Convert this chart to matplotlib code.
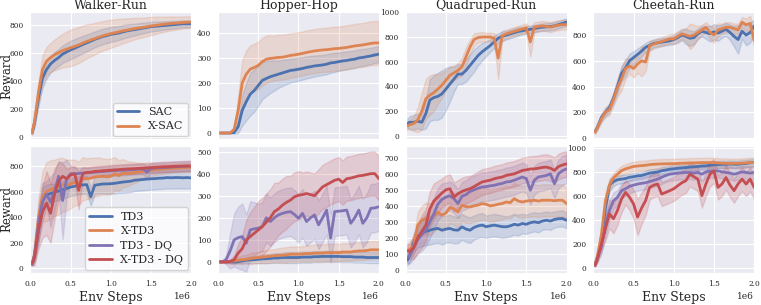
import numpy as np
import matplotlib
matplotlib.use('Agg')
import matplotlib.pyplot as plt
import seaborn as sns

# env steps (in millions)
steps = [0.02, 0.05, 0.10, 0.15, 0.20, 0.25, 0.30, 0.35, 0.40, 0.45, 0.50,
         0.55, 0.60, 0.65, 0.70, 0.75, 0.80, 0.85, 0.90, 0.95, 1.00,
         1.05, 1.10, 1.15, 1.20, 1.25, 1.30, 1.35, 1.40, 1.45, 1.50,
         1.55, 1.60, 1.65, 1.70, 1.75, 1.80, 1.85, 1.90, 1.95, 2.00]

envs = ['Walker-Run', 'Hopper-Hop', 'Quadruped-Run', 'Cheetah-Run']
top_algos = ['SAC', 'X-SAC']
bottom_algos = ['TD3', 'X-TD3', 'TD3 - DQ', 'X-TD3 - DQ']

# ---- top row: SAC / X-SAC (mean, spread) ----
walker_sac = [30, 100, 280, 420, 480, 520, 545, 565, 590, 605, 620, 632, 645, 658, 670, 682, 695, 705, 715, 722, 730,
              735, 740, 748, 755, 760, 765, 770, 775, 780, 785, 788, 790, 793, 795, 798, 800, 803, 805, 805, 805]
walker_sac_sd = [10, 30, 60, 70, 65, 60, 60, 60, 62, 64, 65, 65, 63, 62, 60, 58, 56, 55, 55, 54, 53,
                 52, 50, 48, 46, 44, 42, 40, 38, 36, 35, 34, 32, 30, 29, 28, 27, 26, 25, 25, 25]
walker_xsac = [30, 110, 320, 480, 540, 565, 585, 600, 615, 625, 635, 645, 655, 668, 680, 690, 700, 710, 720, 728, 735,
               742, 748, 755, 760, 766, 772, 776, 780, 785, 790, 794, 798, 802, 805, 808, 810, 812, 815, 816, 818]
walker_xsac_sd = [10, 40, 80, 100, 100, 105, 110, 115, 120, 125, 130, 130, 128, 125, 120, 115, 112, 108, 105, 102, 100,
                  96, 92, 88, 84, 80, 76, 72, 70, 67, 65, 62, 58, 55, 52, 50, 47, 45, 43, 42, 40]

hopper_sac = [0, 0, 0, 0, 2, 25, 90, 125, 155, 170, 190, 210, 218, 225, 230, 235, 240, 245, 250, 252, 255,
              258, 262, 265, 268, 270, 272, 275, 280, 282, 285, 288, 290, 293, 295, 300, 302, 305, 308, 312, 315]
hopper_sac_sd = [0, 0, 0, 0, 5, 25, 60, 75, 85, 85, 80, 75, 70, 65, 60, 55, 52, 50, 48, 47, 46,
                 45, 44, 43, 42, 41, 40, 40, 39, 38, 37, 36, 36, 35, 35, 34, 34, 33, 33, 32, 32]
hopper_xsac = [0, 0, 0, 0, 15, 90, 200, 235, 255, 262, 270, 285, 295, 298, 300, 302, 303, 306, 310, 312, 315,
               318, 322, 325, 328, 330, 332, 333, 335, 337, 338, 340, 342, 345, 348, 350, 352, 355, 358, 360, 360]
hopper_xsac_sd = [0, 0, 0, 0, 10, 60, 90, 95, 95, 95, 95, 95, 95, 92, 90, 90, 90, 90, 88, 88, 88,
                  88, 88, 88, 88, 88, 88, 88, 88, 88, 88, 88, 88, 88, 88, 88, 88, 88, 88, 88, 88]

quad_sac = [100, 110, 110, 120, 110, 180, 290, 310, 320, 340, 380, 420, 460, 500, 500, 530, 570, 610, 650, 680, 705,
            730, 760, 790, 805, 815, 825, 835, 845, 850, 858, 862, 868, 875, 880, 882, 885, 890, 900, 910, 920]
quad_sac_sd = [40, 50, 60, 60, 60, 120, 170, 180, 190, 190, 170, 140, 100, 80, 80, 90, 90, 90, 80, 70, 60,
               50, 50, 40, 40, 35, 35, 35, 35, 30, 30, 30, 30, 30, 30, 30, 30, 30, 30, 30, 30]
quad_xsac = [80, 90, 100, 130, 200, 300, 330, 350, 380, 410, 450, 490, 510, 530, 560, 640, 720, 780, 795, 800, 800,
             800, 790, 630, 810, 825, 835, 845, 855, 865, 875, 760, 880, 885, 890, 885, 880, 890, 895, 900, 900]
quad_xsac_sd = [30, 40, 60, 100, 150, 160, 160, 150, 120, 100, 80, 70, 60, 60, 70, 80, 60, 50, 40, 40, 35,
                35, 40, 170, 40, 35, 35, 35, 35, 35, 35, 120, 40, 40, 40, 40, 40, 40, 40, 40, 40]

cheetah_sac = [50, 85, 160, 200, 235, 310, 400, 500, 545, 600, 625, 650, 675, 705, 720, 735, 740, 745, 750, 755, 765,
               780, 800, 790, 775, 780, 810, 830, 820, 810, 825, 815, 830, 845, 820, 790, 765, 830, 800, 820, 870]
cheetah_sac_sd = [15, 20, 30, 30, 35, 40, 50, 60, 60, 55, 50, 45, 40, 35, 35, 30, 30, 30, 30, 30, 35,
                  40, 40, 60, 60, 50, 40, 40, 50, 60, 60, 60, 50, 50, 60, 80, 110, 60, 80, 80, 50]
cheetah_xsac = [45, 80, 150, 200, 220, 300, 390, 460, 540, 560, 540, 575, 600, 590, 715, 730, 740, 750, 760, 770, 770,
                790, 810, 800, 790, 800, 820, 840, 860, 820, 800, 840, 850, 860, 860, 850, 840, 900, 880, 890, 760]
cheetah_xsac_sd = [15, 20, 30, 40, 40, 50, 70, 90, 80, 60, 70, 70, 120, 70, 40, 35, 35, 35, 35, 35, 40,
                   40, 40, 50, 100, 80, 50, 40, 40, 50, 60, 50, 40, 40, 40, 40, 50, 40, 50, 60, 60]

# ---- bottom row: TD3 family ----
walker_td3 = [30, 100, 300, 540, 575, 585, 595, 605, 615, 625, 636, 642, 650, 652, 655, 560, 650, 655, 660, 660, 662,
              665, 670, 675, 678, 682, 690, 692, 695, 698, 700, 702, 705, 706, 710, 708, 710, 710, 708, 710, 707]
walker_td3_sd = [10, 40, 100, 90, 80, 75, 70, 70, 70, 70, 70, 70, 70, 70, 70, 70, 70, 70, 75, 75, 80,
                 80, 80, 85, 85, 85, 85, 85, 85, 85, 85, 85, 85, 85, 85, 85, 85, 85, 85, 85, 85]
walker_xtd3 = [30, 110, 400, 560, 600, 615, 630, 640, 655, 650, 660, 670, 665, 700, 700, 705, 715, 718, 720, 715, 720,
               740, 725, 745, 740, 745, 750, 755, 760, 765, 768, 772, 775, 778, 780, 782, 785, 786, 788, 790, 790]
walker_xtd3_sd = [10, 60, 150, 200, 230, 230, 220, 220, 210, 200, 190, 180, 170, 170, 160, 160, 150, 150, 140, 140, 140,
                  130, 120, 110, 100, 90, 80, 70, 60, 55, 50, 45, 40, 40, 35, 35, 35, 35, 35, 35, 35]
walker_td3dq = [30, 100, 350, 520, 580, 520, 600, 720, 530, 700, 740, 740, 742, 745, 748, 750, 752, 755, 757, 760, 762,
                765, 767, 768, 770, 772, 774, 776, 778, 752, 782, 785, 787, 789, 790, 792, 794, 796, 798, 800, 800]
walker_td3dq_sd = [10, 50, 150, 150, 100, 200, 150, 120, 300, 150, 60, 50, 45, 45, 40, 40, 40, 40, 40, 40, 40,
                   40, 40, 40, 40, 40, 40, 40, 40, 50, 40, 40, 40, 40, 40, 40, 40, 40, 40, 40, 40]
walker_xtd3dq = [40, 80, 300, 440, 510, 430, 580, 680, 720, 700, 730, 740, 610, 740, 750, 752, 758, 760, 763, 765, 768,
                 770, 772, 775, 777, 778, 780, 782, 784, 786, 788, 790, 792, 794, 795, 796, 798, 799, 800, 800, 800]
walker_xtd3dq_sd = [10, 60, 150, 200, 250, 230, 200, 150, 100, 80, 60, 60, 150, 50, 40, 40, 40, 40, 40, 40, 40,
                    40, 40, 40, 40, 40, 40, 40, 40, 40, 40, 40, 40, 40, 40, 40, 40, 40, 40, 40, 40]

hopper_td3 = [0, 0, 0, 0, 0, 2, 5, 8, 10, 10, 12, 14, 15, 16, 18, 18, 20, 20, 20, 20, 20,
              22, 22, 22, 24, 24, 25, 25, 25, 25, 25, 24, 24, 24, 22, 22, 22, 20, 20, 20, 20]
hopper_td3_sd = [0, 0, 0, 2, 5, 8, 10, 12, 15, 15, 18, 18, 20, 20, 22, 22, 22, 25, 25, 25, 25,
                 25, 25, 25, 25, 25, 25, 25, 25, 25, 25, 25, 25, 25, 25, 25, 25, 25, 25, 25, 25]
hopper_xtd3 = [0, 0, 0, 2, 5, 8, 10, 12, 15, 18, 20, 22, 24, 26, 28, 30, 30, 32, 35, 35, 35,
               36, 38, 38, 40, 40, 40, 42, 42, 42, 42, 45, 45, 45, 48, 50, 50, 52, 55, 55, 55]
hopper_xtd3_sd = [0, 0, 2, 5, 10, 15, 20, 20, 25, 25, 25, 28, 30, 30, 30, 32, 35, 35, 35, 35, 35,
                  35, 38, 38, 38, 40, 40, 40, 40, 40, 40, 40, 40, 40, 40, 40, 40, 40, 40, 40, 40]
hopper_td3dq = [0, 0, 10, 50, 100, 110, 115, 85, 145, 150, 153, 160, 200, 183, 200, 213, 220, 225, 228, 215, 198,
                220, 183, 200, 213, 168, 200, 235, 108, 228, 230, 232, 235, 175, 200, 235, 175, 200, 243, 245, 250]
hopper_td3dq_sd = [0, 0, 20, 80, 120, 140, 150, 130, 130, 120, 110, 110, 110, 110, 110, 110, 110, 110, 110, 110, 110,
                   110, 110, 110, 110, 110, 110, 110, 110, 110, 110, 110, 110, 110, 110, 110, 110, 110, 110, 110, 110]
hopper_xtd3dq = [0, 0, 0, 2, 10, 40, 60, 100, 115, 130, 145, 160, 180, 200, 228, 240, 257, 270, 280, 295, 302,
                 305, 310, 305, 300, 320, 340, 350, 360, 370, 375, 360, 377, 380, 385, 390, 392, 396, 400, 400, 377]
hopper_xtd3dq_sd = [0, 0, 5, 10, 20, 40, 60, 90, 110, 120, 130, 130, 130, 130, 130, 120, 120, 120, 110, 110, 110,
                    100, 100, 100, 100, 100, 100, 100, 100, 100, 100, 100, 100, 100, 100, 100, 100, 100, 100, 100, 100]

quad_td3 = [60, 90, 170, 210, 228, 240, 248, 255, 259, 248, 255, 259, 250, 248, 269, 255, 248, 265, 275, 280, 270,
            275, 280, 275, 270, 269, 275, 285, 280, 290, 285, 295, 300, 295, 305, 310, 305, 315, 320, 321, 310]
quad_td3_sd = [30, 40, 60, 70, 80, 85, 90, 90, 90, 90, 85, 85, 85, 80, 80, 80, 80, 75, 75, 75, 70,
               70, 70, 70, 70, 65, 65, 65, 65, 60, 60, 60, 60, 60, 55, 55, 55, 50, 50, 50, 50]
quad_xtd3 = [120, 130, 150, 280, 310, 321, 315, 340, 360, 342, 355, 390, 380, 362, 404, 395, 393, 400, 405, 414, 410,
             400, 404, 410, 415, 424, 420, 445, 430, 424, 430, 432, 435, 430, 435, 435, 435, 432, 435, 435, 414]
quad_xtd3_sd = [40, 50, 60, 80, 90, 100, 100, 100, 100, 100, 100, 100, 100, 100, 100, 100, 100, 100, 100, 100, 100,
                100, 100, 100, 100, 100, 100, 100, 100, 100, 100, 100, 100, 100, 100, 100, 100, 100, 100, 100, 100]
quad_td3dq = [80, 90, 140, 190, 220, 248, 300, 350, 410, 440, 455, 462, 445, 414, 460, 470, 490, 500, 510, 518, 520,
              525, 528, 535, 540, 549, 552, 560, 570, 580, 570, 497, 560, 580, 585, 590, 600, 538, 600, 620, 631]
quad_td3dq_sd = [40, 50, 70, 90, 100, 100, 100, 100, 100, 100, 90, 90, 90, 90, 90, 90, 90, 90, 90, 90, 90,
                 90, 90, 90, 90, 90, 90, 90, 90, 90, 90, 90, 90, 90, 90, 90, 90, 90, 90, 90, 90]
quad_xtd3dq = [120, 115, 140, 200, 240, 280, 380, 430, 455, 480, 500, 507, 455, 476, 490, 500, 507, 520, 535, 549, 555,
               560, 569, 575, 580, 590, 595, 600, 610, 621, 625, 630, 631, 635, 640, 642, 635, 621, 645, 655, 662]
quad_xtd3dq_sd = [40, 50, 70, 90, 100, 100, 110, 110, 100, 90, 90, 90, 90, 85, 85, 85, 80, 80, 80, 80, 80,
                  80, 80, 80, 80, 80, 80, 80, 80, 80, 80, 80, 80, 80, 80, 80, 80, 80, 80, 80, 80]

cheetah_td3 = [30, 90, 230, 500, 690, 720, 735, 740, 745, 755, 760, 767, 770, 780, 790, 795, 800, 810, 815, 822, 825,
               830, 832, 836, 840, 842, 845, 849, 850, 855, 858, 860, 863, 862, 865, 863, 863, 868, 870, 875, 877]
cheetah_td3_sd = [15, 30, 50, 60, 50, 40, 35, 35, 30, 30, 30, 30, 30, 30, 30, 30, 30, 30, 30, 30, 30,
                  30, 30, 30, 30, 30, 30, 30, 30, 30, 30, 30, 30, 30, 30, 30, 30, 30, 30, 30, 30]
cheetah_xtd3 = [30, 100, 280, 560, 690, 750, 781, 810, 825, 835, 845, 849, 852, 855, 860, 863, 865, 866, 867, 868, 868,
                870, 872, 873, 875, 875, 876, 877, 877, 877, 876, 874, 872, 870, 870, 870, 870, 872, 875, 877, 877]
cheetah_xtd3_sd = [15, 30, 50, 60, 50, 40, 40, 40, 40, 40, 40, 40, 40, 40, 40, 40, 40, 40, 40, 40, 40,
                   40, 40, 40, 40, 40, 40, 40, 40, 40, 40, 40, 40, 40, 40, 40, 40, 40, 40, 40, 40]
cheetah_td3dq = [25, 80, 180, 350, 480, 560, 589, 644, 660, 680, 690, 699, 705, 710, 720, 730, 740, 755, 770, 781, 785,
                 790, 792, 795, 795, 790, 795, 781, 800, 805, 808, 808, 800, 795, 790, 781, 790, 800, 795, 790, 795]
cheetah_td3dq_sd = [10, 30, 60, 80, 80, 70, 60, 60, 60, 55, 55, 55, 55, 55, 55, 55, 55, 55, 55, 55, 55,
                    55, 55, 55, 55, 55, 55, 55, 55, 55, 55, 55, 55, 55, 55, 55, 55, 55, 55, 55, 55]
cheetah_xtd3dq = [25, 80, 200, 330, 452, 411, 480, 575, 630, 590, 534, 425, 500, 562, 671, 690, 699, 616, 630, 644, 660,
                  685, 710, 726, 781, 760, 740, 603, 700, 781, 808, 671, 700, 753, 690, 644, 700, 740, 699, 740, 671]
cheetah_xtd3dq_sd = [10, 30, 60, 100, 120, 120, 120, 110, 100, 110, 120, 150, 130, 120, 100, 100, 100, 100, 100, 100, 100,
                     100, 100, 100, 100, 100, 100, 100, 100, 100, 100, 100, 100, 100, 100, 100, 100, 100, 100, 100, 100]

COLORS = ['#4C72B0', '#DD8452', '#8172B3', '#C44E52']

TOP_YLIMS = [(-15, 890), (-25, 484), (-27, 1003), (-10, 980)]
BOTTOM_YLIMS = [(-37, 960), (-50, 527), (-19, 776), (-39, 1018)]


def drawCurve(ax, mean, spread, color, label):
    x = np.array(steps) * 1e6
    mean = np.array(mean, dtype=float)
    spread = np.array(spread, dtype=float)
    ax.fill_between(x, mean - spread, mean + spread, color=color, alpha=0.2, linewidth=1)
    ax.plot(x, mean, color=color, linewidth=2, label=label)


def main():
    sns.set_style('darkgrid')
    plt.rcParams['font.family'] = ['DejaVu Serif']

    top = [
        [(walker_sac, walker_sac_sd), (walker_xsac, walker_xsac_sd)],
        [(hopper_sac, hopper_sac_sd), (hopper_xsac, hopper_xsac_sd)],
        [(quad_sac, quad_sac_sd), (quad_xsac, quad_xsac_sd)],
        [(cheetah_sac, cheetah_sac_sd), (cheetah_xsac, cheetah_xsac_sd)],
    ]
    bottom = [
        [(walker_td3, walker_td3_sd), (walker_xtd3, walker_xtd3_sd),
         (walker_td3dq, walker_td3dq_sd), (walker_xtd3dq, walker_xtd3dq_sd)],
        [(hopper_td3, hopper_td3_sd), (hopper_xtd3, hopper_xtd3_sd),
         (hopper_td3dq, hopper_td3dq_sd), (hopper_xtd3dq, hopper_xtd3dq_sd)],
        [(quad_td3, quad_td3_sd), (quad_xtd3, quad_xtd3_sd),
         (quad_td3dq, quad_td3dq_sd), (quad_xtd3dq, quad_xtd3dq_sd)],
        [(cheetah_td3, cheetah_td3_sd), (cheetah_xtd3, cheetah_xtd3_sd),
         (cheetah_td3dq, cheetah_td3dq_sd), (cheetah_xtd3dq, cheetah_xtd3dq_sd)],
    ]

    fig, axes = plt.subplots(2, 4, figsize=(7.61, 3.05), dpi=100, sharex=True)
    plt.subplots_adjust(left=0.04, right=0.991, top=0.961, bottom=0.105, wspace=0.167, hspace=0.05)

    for col in range(4):
        ax = axes[0, col]
        for i, (mean, spread) in enumerate(top[col]):
            drawCurve(ax, mean, spread, COLORS[i], top_algos[i])
        ax.set_title(envs[col], fontsize=9, pad=1.5)
        ax.set_ylim(*TOP_YLIMS[col])

        ax = axes[1, col]
        for i, (mean, spread) in enumerate(bottom[col]):
            drawCurve(ax, mean, spread, COLORS[i], bottom_algos[i])
        ax.set_ylim(*BOTTOM_YLIMS[col])
        ax.set_xlabel('Env Steps', fontsize=9, labelpad=2)

    for ax in axes.flat:
        ax.set_xlim(0, 2e6)
        ax.set_xticks([0, 0.5e6, 1e6, 1.5e6, 2e6])
        ax.tick_params(axis='both', labelsize=5.3, pad=1.5)
        ax.xaxis.get_offset_text().set_fontsize(6.5)

    for row in range(2):
        axes[row, 0].set_ylabel('Reward', fontsize=8.5)
        axes[row, 0].yaxis.set_label_coords(-0.105, 0.5)
        leg = axes[row, 0].legend(loc='lower right', fontsize=8, frameon=True, borderaxespad=0.3,
                                  labelspacing=0.4, borderpad=0.4, handlelength=2.0)
        leg.get_frame().set_edgecolor('0.8')
        leg.get_frame().set_facecolor('white')
        leg.get_frame().set_alpha(0.8)

    fig.savefig('out.png', dpi=100)


if (__name__ == "__main__"):
    main()
